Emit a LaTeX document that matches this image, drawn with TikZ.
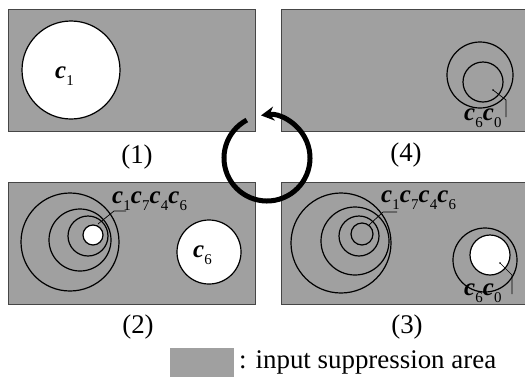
\documentclass[tikz,border=0pt]{standalone}
\usepackage{fontspec}
\setmainfont{Liberation Serif}
\usetikzlibrary{arrows.meta}
\definecolor{area}{RGB}{160,160,160}
\definecolor{frame}{RGB}{70,70,70}
% italic c with a lowered upright index
\newcommand\cl[1]{\textbf{\textit{c}}\kern0.2bp\raisebox{-0.32em}{\fontsize{15}{15}\selectfont #1}}

\begin{document}
\begin{tikzpicture}[x=1bp,y=-1bp,
  panel/.style={fill=area,draw=frame,line width=0.9bp},
  ring/.style={draw=black,line width=1.2bp},
  hole/.style={ring,fill=white},
  lead/.style={draw=black,line width=0.7bp},
  tag/.style={font=\fontsize{25}{25}\selectfont,inner sep=0pt},
  caption/.style={font=\fontsize{27}{27}\selectfont,inner sep=0pt},
]
\useasboundingbox (0,0) rectangle (525,376);

% the four panels
\path[panel] (8,9) rectangle (255,131);
\path[panel] (281,9) rectangle (530,131);
\path[panel] (8,182) rectangle (255,304);
\path[panel] (281,182) rectangle (530,304);

% panel (1)
\path[hole] (71,70) circle[radius=49];
\node[tag,anchor=base west] (c1a) at (55,78) {\cl{1}};

% panel (4)
\path[ring] (480,75) circle[radius=33];
\path[ring] (483,82) circle[radius=20];
\node[tag,anchor=base west] (c60a) at (464,120) {\cl{6}\cl{0}};
\coordinate (p4a) at (493,90);
\coordinate (p4b) at (506,100);
\coordinate (p4c) at (506,117);
\fill (p4a) circle[radius=0.8];
\draw[lead] (p4a) -- (p4b) -- (p4c);

% panel (2)
\path[ring] (70,242) circle[radius=49];
\path[ring] (80,240) circle[radius=31];
\path[ring] (88,236) circle[radius=20];
\path[hole] (93,235) circle[radius=10];
\path[hole] (209,252) circle[radius=32];
\node[tag,anchor=base west] (c6b) at (193,257) {\cl{6}};
\node[tag,anchor=base west] (c1746b) at (112,203) {\cl{1}\cl{7}\cl{4}\cl{6}};
\coordinate (p2a) at (98,224);
\coordinate (p2b) at (114,211);
\coordinate (p2c) at (126,211);
\draw[lead] (p2a) -- (p2b) -- (p2c);

% panel (3)
\path[ring] (341,243) circle[radius=50];
\path[ring] (355,241) circle[radius=34];
\path[ring] (359,236) circle[radius=20];
\path[ring] (362,234) circle[radius=11];
\node[tag,anchor=base west] (c1746c) at (381,202) {\cl{1}\cl{7}\cl{4}\cl{6}};
\coordinate (p3a) at (369,225);
\coordinate (p3b) at (383,212);
\coordinate (p3c) at (397,212);
\draw[lead] (p3a) -- (p3b) -- (p3c);
\path[ring] (485,260) circle[radius=32];
\path[hole] (490,255) circle[radius=20];
\node[tag,anchor=base west] (c60c) at (464,295) {\cl{6}\cl{0}};
\coordinate (p3d) at (500,263);
\coordinate (p3e) at (512,275);
\coordinate (p3f) at (512,294);
\fill (p3d) circle[radius=0.8];
\draw[lead] (p3d) -- (p3e) -- (p3f);

% captions
\node[caption] (cap1) at (137,157) {(1)};
\node[caption] (cap4) at (406,155) {(4)};
\node[caption] (cap2) at (138,327) {(2)};
\node[caption] (cap3) at (407,327) {(3)};

% cycle arrow in the middle
\coordinate (mid) at (267,158);
\draw[line width=5bp,-{Stealth[length=13bp,width=14bp]}]
  (mid) ++(-118:43) arc[start angle=-118,end angle=-458,radius=43];

% legend
\path[fill=area] (170,348) rectangle (234,378);
\node[caption,anchor=base west] (legend) at (239,368) {: input suppression area};
\end{tikzpicture}
\end{document}
